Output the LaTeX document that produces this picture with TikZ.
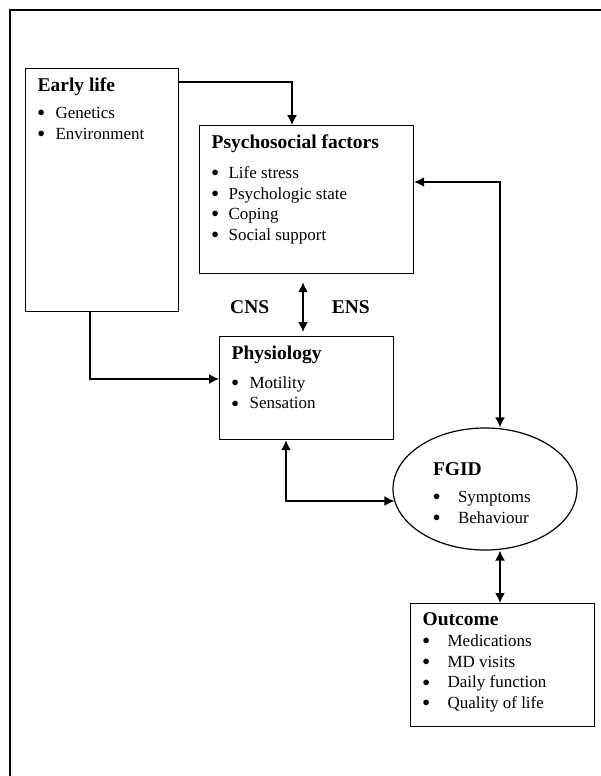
\documentclass[tikz,border=0pt]{standalone}
\usepackage{fontspec}
\setmainfont{Liberation Serif}
\usetikzlibrary{shapes.geometric,arrows.meta}

\newcommand{\boxhead}[2]{{\fontsize{19.5}{22}\selectfont\bfseries #1\par}\vspace{\dimexpr #2pt-20.7pt\relax}}
\newcommand{\bitem}[2][18pt]{\makebox[#1][l]{\raisebox{1.8pt}{\fontsize{14}{0}\selectfont$\bullet$}}#2\par}
\newcommand{\boxbody}[3]{\parbox[t][\dimexpr #2pt-18pt\relax][t]{\dimexpr #1pt-24pt\relax}{\fontsize{17}{20.7}\selectfont #3}}

\begin{document}
\begin{tikzpicture}[x=1pt,y=-1pt,
    box/.style={draw,line width=1.2pt,anchor=north west,inner xsep=12pt,inner ysep=9pt},
    oval/.style={draw,ellipse,line width=1.2pt,inner sep=0pt,minimum width=184pt,minimum height=122pt},
    arr/.style={line width=1.4pt,-{Latex[length=10pt,width=10pt]}},
    biarr/.style={line width=1.6pt,{Latex[length=10pt,width=10pt]}-{Latex[length=10pt,width=10pt]}},
    tag/.style={font=\fontsize{19.5}{22}\selectfont\bfseries,inner sep=0pt}]
    \useasboundingbox (0,0) rectangle (601,776);
    \draw[line width=2.2pt] (10,776) -- (10,10) -- (601,10);

    \node[box] (early) at (25,68) {\boxbody{153}{243}{\boxhead{Early life}{27}\bitem{Genetics}\bitem{Environment}}};
    \node[box] (psycho) at (199,125) {\boxbody{214}{148}{\boxhead{Psychosocial factors}{30}\bitem[17pt]{Life stress}\bitem[17pt]{Psychologic state}\bitem[17pt]{Coping}\bitem[17pt]{Social support}}};
    \node[box] (physio) at (219,336) {\boxbody{174}{103}{\boxhead{Physiology}{29}\bitem{Motility}\bitem{Sensation}}};
    \node[oval] (fgid) at (485,489) {\parbox{104pt}{\fontsize{17}{20.7}\selectfont\vspace*{8pt}\boxhead{FGID}{27}\bitem[25pt]{Symptoms}\bitem[25pt]{Behaviour}}};
    \node[box] (outcome) at (410,603) {\boxbody{184}{123}{\boxhead{Outcome}{21}\bitem[25pt]{Medications}\bitem[25pt]{MD visits}\bitem[25pt]{Daily function}\bitem[25pt]{Quality of life}}};

    \draw[arr] ([yshift=-14pt]early.north east) -| ([xshift=93pt]psycho.north west);
    \draw[arr] ([xshift=65pt]early.south west) |- ([yshift=-43pt]physio.north west);
    \draw[biarr] ([xshift=104pt,yshift=-8pt]psycho.south west) -- ([xshift=84pt,yshift=4pt]physio.north west)
        node[tag,midway,left=33pt] (cns) {CNS}
        node[tag,midway,right=28pt] (ens) {ENS};
    \draw[biarr] ([yshift=-57pt]psycho.north east) -| ([xshift=15pt]fgid.north);
    \draw[biarr] ([xshift=67pt]physio.south west) |- ([xshift=2pt,yshift=-12pt]fgid.west);
    \draw[biarr] ([xshift=15pt]fgid.south) -- ([xshift=90pt]outcome.north west);
\end{tikzpicture}
\end{document}
